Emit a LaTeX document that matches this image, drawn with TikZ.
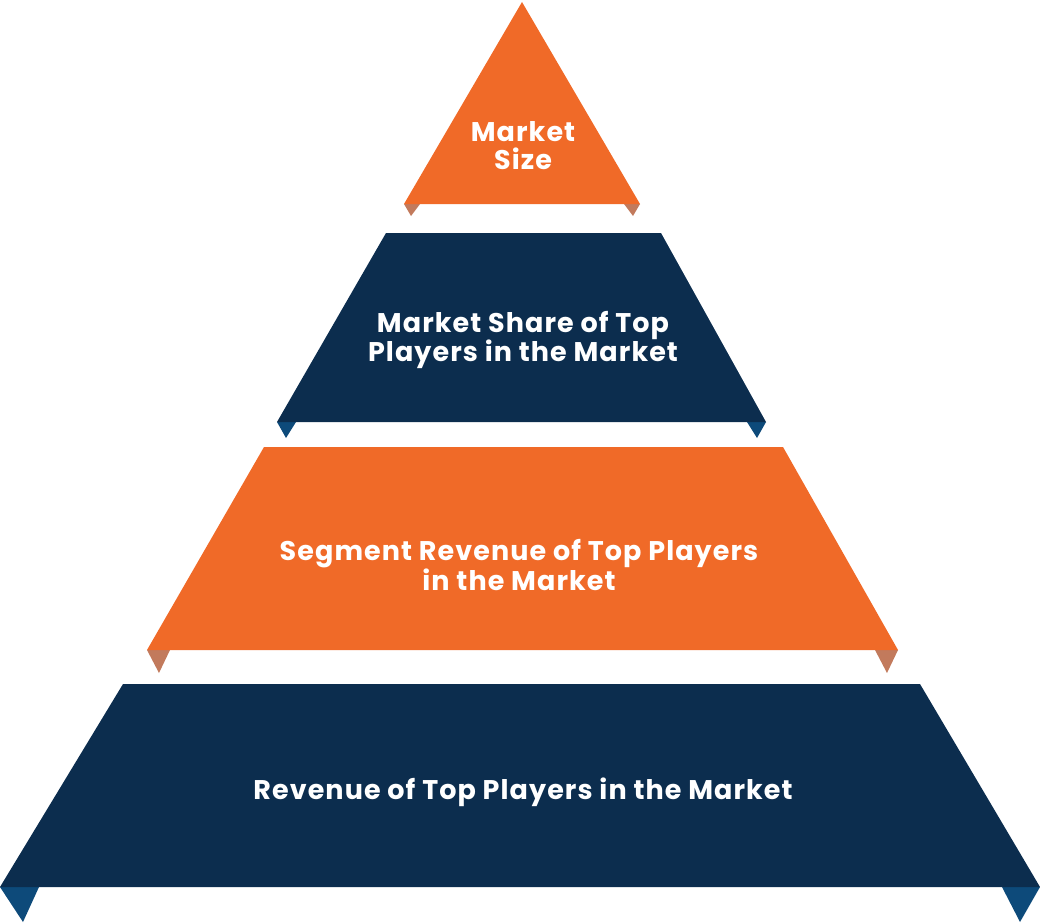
\documentclass[tikz,border=0pt]{standalone}
\usepackage{fontspec}
\setmainfont{Poppins}[LetterSpace=4]
\definecolor{pyrorange}{HTML}{F06A28}
\definecolor{pyrnavy}{HTML}{0C2D4E}
\definecolor{foldorange}{HTML}{C27A5C}
\definecolor{foldnavy}{HTML}{0D4A7A}
\tikzset{
  band/.style={fill=#1},
  fold/.style={fill=#1},
  lbl/.style={text=white, font=\fontsize{27}{28}\selectfont\bfseries, align=center}
}
\begin{document}
\begin{tikzpicture}[x=1pt, y=-1pt]
  \useasboundingbox (0,0) rectangle (1040,923);
  % top: market size
  \fill[fold=foldorange] (404,204) -- (420,204) -- (411,216) -- cycle;
  \fill[fold=foldorange] (624,204) -- (640,204) -- (633,216) -- cycle;
  \fill[band=pyrorange] (522,2) -- (640,204) -- (404,204) -- cycle;
  \node[lbl] (size) at (523,146) {Market\\Size};
  % second band: market share
  \fill[fold=foldnavy] (277,422) -- (296,422) -- (286,438) -- cycle;
  \fill[fold=foldnavy] (747,422) -- (766,422) -- (757,438) -- cycle;
  \fill[band=pyrnavy] (386,233) -- (661,233) -- (766,422) -- (277,422) -- cycle;
  \node[lbl] (share) at (523,340) {Market Share of Top\\Players in the Market};
  % third band: segment revenue
  \fill[fold=foldorange] (147,650) -- (170,650) -- (159,673) -- cycle;
  \fill[fold=foldorange] (875,650) -- (898,650) -- (887,673) -- cycle;
  \fill[band=pyrorange] (264,447) -- (783,447) -- (898,650) -- (147,650) -- cycle;
  \node[lbl] (segment) at (519,565) {Segment Revenue of Top Players\\in the Market};
  % bottom band: revenue
  \fill[fold=foldnavy] (0,887) -- (39,887) -- (23,922) -- cycle;
  \fill[fold=foldnavy] (1002,887) -- (1040,887) -- (1020,922) -- cycle;
  \fill[band=pyrnavy] (123,684) -- (920,684) -- (1040,887) -- (0,887) -- cycle;
  \node[lbl] (revenue) at (523,792) {Revenue of Top Players in the Market};
\end{tikzpicture}
\end{document}
